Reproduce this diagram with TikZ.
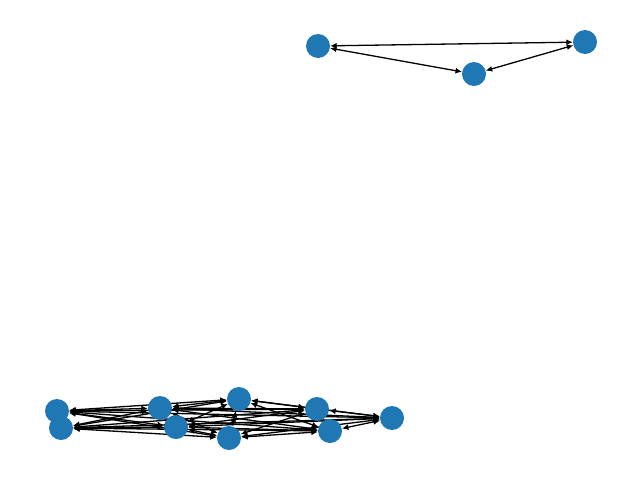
\documentclass[tikz,border=0pt]{standalone}
\usepackage{tikz}
\usetikzlibrary{arrows.meta, backgrounds}

\definecolor{nodeblue}{HTML}{1F77B4}

\begin{document}
\begin{tikzpicture}[x=1pt, y=-1pt,
  vtx/.style={circle, fill=nodeblue, minimum size=24pt, inner sep=0pt},
  edge/.style={line width=1.3pt, {Latex[length=6.5pt,width=6pt]}-{Latex[length=6.5pt,width=6pt]}}]

% Frame
\useasboundingbox (0,0) rectangle (640,480);

% Small cluster
\node[vtx] (a) at (318,46) {};
\node[vtx] (b) at (585,42) {};
\node[vtx] (c) at (474,74) {};

% Large cluster
\node[vtx] (n1) at (57,411) {};
\node[vtx] (n2) at (61,428) {};
\node[vtx] (n3) at (160,408) {};
\node[vtx] (n4) at (176,427) {};
\node[vtx] (n5) at (239,399) {};
\node[vtx] (n6) at (229,438) {};
\node[vtx] (n7) at (317,409) {};
\node[vtx] (n8) at (330,431) {};
\node[vtx] (n9) at (392,418) {};

\begin{pgfonlayer}{background}
% Small cluster edges
\foreach \s/\t in {a/b, a/c, b/c}
  \draw[edge] (\s) -- (\t);

% Large cluster edges
\foreach \i [evaluate=\i as \k using int(\i+1)] in {1,...,8}
  \foreach \j in {\k,...,9}
    \draw[edge] (n\i) -- (n\j);
\end{pgfonlayer}

\end{tikzpicture}
\end{document}
